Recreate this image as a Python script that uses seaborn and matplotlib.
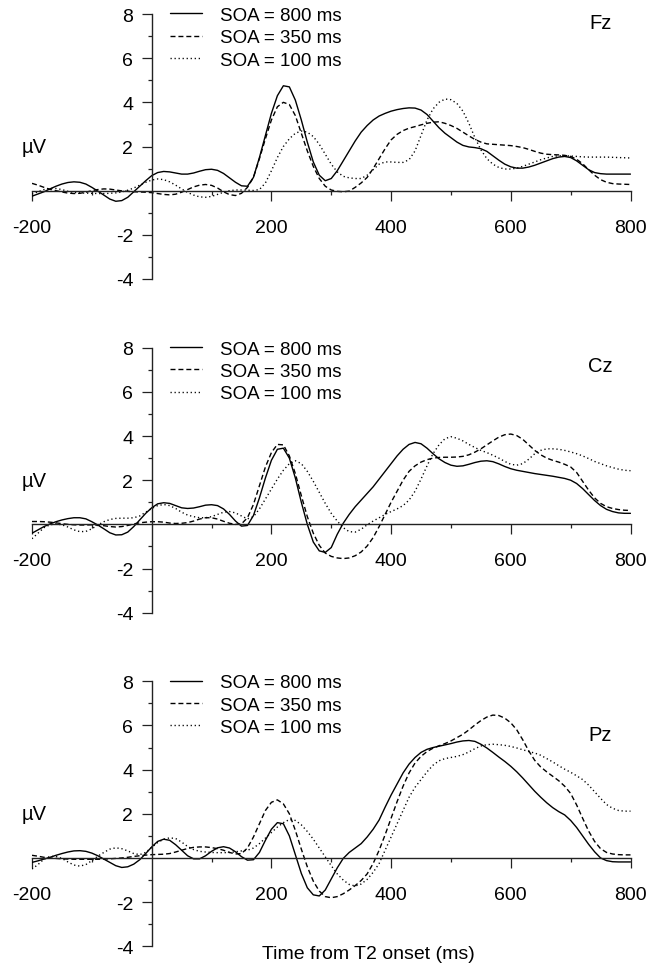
import pandas as pd
import matplotlib.pyplot as plt
import seaborn as sns

# Plain white style, ticks only
sns.set_style("ticks")
plt.rcParams['font.family'] = ['Liberation Sans', 'DejaVu Sans']
plt.rcParams['axes.unicode_minus'] = False
plt.rcParams['text.color'] = 'black'

# Time axis (ms from T2 onset), one sample every 10 ms
time_ms = list(range(-200, 801, 10))

conditions = ['SOA = 800 ms', 'SOA = 350 ms', 'SOA = 100 ms']
electrodes = ['Fz', 'Cz', 'Pz']

# Fz waveforms (uV)
fz_800 = [-0.25, -0.15, -0.05, 0.08, 0.2, 0.3, 0.37, 0.4, 0.38, 0.3,
          0.15, -0.02, -0.2, -0.38, -0.48, -0.45, -0.3, -0.05, 0.2, 0.45,
          0.68, 0.82, 0.87, 0.85, 0.8, 0.75, 0.75, 0.8, 0.88, 0.95,
          0.97, 0.92, 0.78, 0.58, 0.38, 0.22, 0.2, 0.6, 1.5, 2.5,
          3.5, 4.3, 4.75, 4.7, 4.1, 3.2, 2.2, 1.3, 0.7, 0.45,
          0.55, 0.9, 1.35, 1.8, 2.25, 2.65, 2.95, 3.2, 3.38, 3.5,
          3.6, 3.67, 3.72, 3.75, 3.74, 3.65, 3.45, 3.15, 2.85, 2.6,
          2.4, 2.2, 2.05, 1.98, 1.95, 1.9, 1.78, 1.58, 1.38, 1.2,
          1.08, 1.02, 1.02, 1.07, 1.15, 1.25, 1.35, 1.45, 1.52, 1.55,
          1.5, 1.35, 1.15, 0.95, 0.82, 0.77, 0.75, 0.75, 0.75, 0.75,
          0.75]
fz_350 = [0.33, 0.25, 0.15, 0.06, 0.0, -0.06, -0.11, -0.13, -0.12, -0.07,
          0.0, 0.05, 0.08, 0.07, 0.03, -0.01, -0.03, -0.05, -0.06, -0.07,
          -0.09, -0.13, -0.17, -0.19, -0.16, -0.07, 0.05, 0.17, 0.25, 0.28,
          0.24, 0.12, -0.05, -0.18, -0.22, -0.12, 0.15, 0.6, 1.45, 2.35,
          3.2, 3.8, 4.0, 3.9, 3.4, 2.6, 1.8, 1.1, 0.55, 0.2,
          0.03, -0.03, -0.05, -0.02, 0.15, 0.35, 0.6, 1.0, 1.45, 1.9,
          2.3, 2.55, 2.72, 2.83, 2.9, 2.98, 3.05, 3.1, 3.12, 3.05,
          2.95, 2.82, 2.65, 2.48, 2.32, 2.2, 2.12, 2.1, 2.08, 2.06,
          2.04, 2.0, 1.95, 1.87, 1.78, 1.7, 1.65, 1.63, 1.62, 1.6,
          1.55, 1.42, 1.22, 0.95, 0.7, 0.5, 0.38, 0.32, 0.3, 0.29,
          0.28]
fz_100 = [-0.15, -0.05, 0.05, 0.1, 0.1, 0.05, -0.03, -0.08, -0.1, -0.11,
          -0.12, -0.13, -0.13, -0.12, -0.1, -0.06, 0.02, 0.12, 0.25, 0.38,
          0.48, 0.53, 0.5, 0.4, 0.25, 0.08, -0.08, -0.2, -0.28, -0.3,
          -0.26, -0.17, -0.07, 0.0, 0.03, 0.03, 0.02, 0.01, 0.05, 0.35,
          0.9, 1.5, 2.0, 2.35, 2.6, 2.7, 2.65, 2.45, 2.1, 1.65,
          1.2, 0.85, 0.65, 0.58, 0.55, 0.55, 0.7, 0.95, 1.2, 1.3,
          1.3, 1.28, 1.28, 1.4, 1.8, 2.5, 3.2, 3.7, 4.0, 4.15,
          4.12, 3.95, 3.6, 3.05, 2.4, 1.85, 1.45, 1.2, 1.05, 0.98,
          0.98, 1.02, 1.1, 1.2, 1.3, 1.4, 1.48, 1.55, 1.58, 1.58,
          1.57, 1.55, 1.53, 1.52, 1.52, 1.52, 1.52, 1.51, 1.5, 1.49,
          1.48]

# Cz waveforms (uV)
cz_800 = [-0.4, -0.25, -0.1, 0.02, 0.12, 0.2, 0.26, 0.3, 0.3, 0.25,
          0.12, -0.03, -0.2, -0.38, -0.48, -0.47, -0.35, -0.1, 0.2, 0.5,
          0.75, 0.93, 0.98, 0.95, 0.85, 0.75, 0.72, 0.74, 0.8, 0.87,
          0.89, 0.85, 0.7, 0.45, 0.15, -0.08, -0.05, 0.4, 1.2, 2.1,
          2.9, 3.4, 3.45, 3.0, 2.1, 1.0, 0.0, -0.8, -1.2, -1.27,
          -1.05, -0.45, 0.05, 0.45, 0.8, 1.1, 1.4, 1.7, 2.05, 2.4,
          2.75, 3.1, 3.4, 3.62, 3.71, 3.65, 3.45, 3.2, 2.97, 2.8,
          2.68, 2.63, 2.65, 2.72, 2.8, 2.86, 2.88, 2.84, 2.74, 2.62,
          2.52, 2.45, 2.4, 2.35, 2.3, 2.26, 2.22, 2.18, 2.13, 2.08,
          2.0, 1.85, 1.62, 1.35, 1.08, 0.85, 0.68, 0.58, 0.52, 0.5,
          0.5]
cz_350 = [0.13, 0.13, 0.12, 0.1, 0.07, 0.03, 0.0, -0.02, -0.03, -0.03,
          -0.02, -0.03, -0.06, -0.1, -0.12, -0.1, -0.05, 0.02, 0.07, 0.1,
          0.12, 0.12, 0.1, 0.06, 0.04, 0.05, 0.08, 0.15, 0.24, 0.3,
          0.3, 0.24, 0.14, 0.05, 0.0, 0.02, 0.3, 0.9, 1.75, 2.6,
          3.25, 3.62, 3.6, 3.1, 2.3, 1.3, 0.35, -0.4, -0.95, -1.3,
          -1.45, -1.52, -1.55, -1.52, -1.42, -1.25, -0.98, -0.6, -0.1, 0.45,
          1.0, 1.5, 2.0, 2.4, 2.65, 2.82, 2.93, 3.0, 3.03, 3.04,
          3.04, 3.05, 3.08, 3.15, 3.27, 3.42, 3.6, 3.78, 3.95, 4.06,
          4.09, 4.02, 3.85, 3.6, 3.35, 3.15, 3.0, 2.9, 2.82, 2.72,
          2.6, 2.35, 1.95, 1.55, 1.2, 0.95, 0.8, 0.72, 0.67, 0.64,
          0.63]
cz_100 = [-0.65, -0.4, -0.15, -0.02, 0.02, -0.02, -0.12, -0.25, -0.33, -0.32,
          -0.2, -0.03, 0.12, 0.22, 0.27, 0.28, 0.28, 0.3, 0.38, 0.55,
          0.72, 0.85, 0.9, 0.85, 0.72, 0.55, 0.42, 0.35, 0.3, 0.3,
          0.35, 0.45, 0.55, 0.58, 0.52, 0.38, 0.25, 0.35, 0.7, 1.15,
          1.6, 2.05, 2.45, 2.75, 2.88, 2.75, 2.4, 1.95, 1.45, 0.95,
          0.5, 0.15, -0.15, -0.33, -0.35, -0.22, -0.02, 0.15, 0.3, 0.45,
          0.58, 0.7, 0.85, 1.1, 1.5, 2.05, 2.65, 3.2, 3.6, 3.88,
          3.97, 3.9, 3.78, 3.62, 3.48, 3.35, 3.25, 3.13, 3.0, 2.85,
          2.72, 2.68, 2.75, 2.95, 3.2, 3.35, 3.42, 3.42, 3.4, 3.35,
          3.28, 3.2, 3.1, 2.98, 2.85, 2.75, 2.65, 2.57, 2.5, 2.45,
          2.43]

# Pz waveforms (uV)
pz_800 = [-0.2, -0.13, -0.05, 0.03, 0.12, 0.2, 0.27, 0.32, 0.33, 0.3,
          0.22, 0.1, -0.05, -0.2, -0.35, -0.43, -0.4, -0.28, -0.08, 0.2,
          0.5, 0.75, 0.85, 0.8, 0.6, 0.35, 0.1, -0.04, -0.04, 0.1,
          0.3, 0.46, 0.51, 0.45, 0.28, 0.06, -0.1, -0.08, 0.25, 0.8,
          1.3, 1.6, 1.55, 1.0, 0.15, -0.7, -1.35, -1.67, -1.72, -1.45,
          -0.95, -0.45, -0.02, 0.25, 0.45, 0.65, 0.95, 1.3, 1.72, 2.3,
          2.85, 3.35, 3.85, 4.25, 4.55, 4.78, 4.92, 5.0, 5.06, 5.12,
          5.18, 5.25, 5.3, 5.32, 5.28, 5.15, 4.98, 4.78, 4.57, 4.37,
          4.15, 3.9, 3.62, 3.32, 3.02, 2.75, 2.5, 2.28, 2.1, 1.95,
          1.7, 1.38, 1.0, 0.62, 0.28, 0.0, -0.12, -0.17, -0.18, -0.18,
          -0.18]
pz_350 = [0.12, 0.08, 0.03, 0.0, -0.02, -0.04, -0.05, -0.06, -0.06, -0.06,
          -0.06, -0.06, -0.05, -0.04, -0.02, 0.0, 0.03, 0.07, 0.1, 0.13,
          0.15, 0.16, 0.17, 0.2, 0.27, 0.35, 0.43, 0.48, 0.5, 0.5,
          0.47, 0.42, 0.35, 0.25, 0.18, 0.2, 0.45, 0.95, 1.55, 2.15,
          2.52, 2.63, 2.45, 2.0, 1.25, 0.4, -0.4, -1.05, -1.5, -1.75,
          -1.8, -1.75, -1.62, -1.45, -1.25, -1.02, -0.72, -0.25, 0.35, 1.05,
          1.8, 2.55, 3.25, 3.85, 4.3, 4.6, 4.82, 4.97, 5.08, 5.18,
          5.3, 5.45, 5.6, 5.8, 6.02, 6.22, 6.38, 6.47, 6.45, 6.33,
          6.12, 5.8, 5.35, 4.85, 4.42, 4.12, 3.9, 3.7, 3.5, 3.25,
          2.92, 2.4, 1.8, 1.22, 0.75, 0.42, 0.25, 0.18, 0.15, 0.14,
          0.14]
pz_100 = [-0.5, -0.3, -0.05, 0.07, 0.07, -0.02, -0.18, -0.32, -0.37, -0.3,
          -0.12, 0.08, 0.25, 0.4, 0.46, 0.42, 0.32, 0.2, 0.15, 0.25,
          0.48, 0.7, 0.85, 0.91, 0.88, 0.72, 0.52, 0.38, 0.3, 0.27,
          0.25, 0.24, 0.24, 0.25, 0.28, 0.32, 0.35, 0.45, 0.65, 0.9,
          1.15, 1.4, 1.6, 1.74, 1.7, 1.5, 1.2, 0.85, 0.45, 0.05,
          -0.35, -0.72, -1.0, -1.2, -1.27, -1.18, -0.97, -0.65, -0.25, 0.35,
          0.95, 1.55, 2.15, 2.75, 3.2, 3.55, 3.9, 4.2, 4.4, 4.5,
          4.55, 4.6, 4.68, 4.8, 4.95, 5.07, 5.13, 5.15, 5.13, 5.1,
          5.05, 4.98, 4.9, 4.82, 4.75, 4.65, 4.5, 4.35, 4.18, 4.02,
          3.88, 3.72, 3.55, 3.3, 3.0, 2.7, 2.42, 2.25, 2.15, 2.12,
          2.12]

waves = {
    'Fz': [fz_800, fz_350, fz_100],
    'Cz': [cz_800, cz_350, cz_100],
    'Pz': [pz_800, pz_350, pz_100],
}

# Line styles per SOA condition
dash_styles = {'SOA = 800 ms': '', 'SOA = 350 ms': (3.6, 2.1), 'SOA = 100 ms': (0.9, 2.0)}

# Layout in pixels (figure is 661 x 970)
W, H = 661, 970
panel_tops = [15, 348.7, 682.3]
panel_h = 265
ax_left, ax_width = 32, 598.5
label_pos = [(750, 7.63), (750, 7.18), (750, 5.6)]

fig = plt.figure(figsize=(W / 100, H / 100), dpi=100)

for i, name in enumerate(electrodes):
    top = panel_tops[i]
    ax = fig.add_axes([ax_left / W, 1 - (top + panel_h) / H, ax_width / W, panel_h / H])

    df = pd.concat([
        pd.DataFrame({'time': time_ms, 'uV': vals, 'soa': cond})
        for cond, vals in zip(conditions, waves[name])
    ])

    sns.lineplot(data=df, x='time', y='uV', style='soa', style_order=conditions,
                 dashes=dash_styles, color='black', linewidth=1.0,
                 estimator=None, sort=False, ax=ax)

    ax.set_xlim(-200, 800)
    ax.set_ylim(-4, 8)
    ax.set_xlabel('')
    ax.set_ylabel('')

    # axes cross at the origin
    for side in ['top', 'right']:
        ax.spines[side].set_visible(False)
    ax.spines['left'].set_position(('data', 0))
    ax.spines['bottom'].set_position(('data', 0))
    for side in ['left', 'bottom']:
        ax.spines[side].set_linewidth(1.0)
        ax.spines[side].set_color('#222222')

    ax.set_xticks([-200, 200, 400, 600, 800])
    ax.set_xticks([-100, 100, 300, 500, 700], minor=True)
    ax.set_yticks([-4, -2, 2, 4, 6, 8])
    ax.set_yticks([-3, -1, 1, 3, 5, 7], minor=True)
    ax.tick_params(axis='both', which='major', direction='out', length=7.2, width=0.9,
                   color='#222222', labelsize=14, labelcolor='black')
    ax.tick_params(axis='both', which='minor', direction='out', length=2.9, width=0.9,
                   color='#222222')
    ax.tick_params(axis='x', which='major', pad=13)
    ax.tick_params(axis='y', which='major', pad=6)

    # legend in the upper left, next to the y axis
    sns.move_legend(ax, 'upper left', bbox_to_anchor=(30, 8.33),
                    bbox_transform=ax.transData, frameon=False, title=None,
                    fontsize=13.5, handlelength=1.75, handletextpad=0.95,
                    labelspacing=0.28, borderpad=0, borderaxespad=0,
                    labelcolor='black')
    for h in ax.get_legend().legend_handles:
        h.set_color('black')
        h.set_linewidth(1.0)

    ax.text(-196, 2.0, 'µV', ha='center', va='center', fontsize=14.5, color='black')
    lx, ly = label_pos[i]
    ax.text(lx, ly, name, ha='center', va='center', fontsize=14.5, color='black')

    if name == 'Pz':
        ax.text(362, -4.33, 'Time from T2 onset (ms)', ha='center', va='center',
                fontsize=14, color='black', clip_on=False)

fig.savefig('out.png', dpi=100)
